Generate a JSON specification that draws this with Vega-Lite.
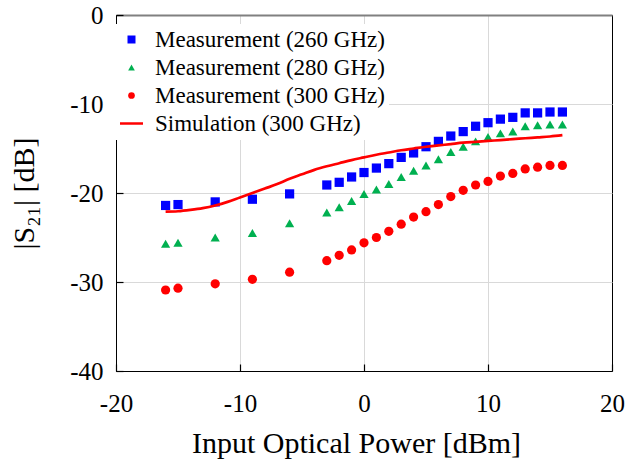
{
  "$schema": "https://vega.github.io/schema/vega-lite/v6.json",
  "width": 496,
  "height": 356,
  "autosize": {"type": "none"},
  "padding": {"left": 116, "top": 15, "right": 32, "bottom": 91},
  "background": "white",
  "config": {
    "view": {"stroke": "black", "strokeWidth": 1},
    "font": "Liberation Serif",
    "axis": {
      "labelFont": "Liberation Serif",
      "labelFontSize": 25,
      "labelColor": "black",
      "labelFlush": false,
      "labelOverlap": false,
      "titleFont": "Liberation Serif",
      "titleFontSize": 30,
      "titleFontWeight": "normal",
      "titleColor": "black",
      "domainColor": "black",
      "domainWidth": 1,
      "ticks": true,
      "tickColor": "black",
      "tickSize": -7,
      "tickWidth": 1.2,
      "zindex": 1
    },
    "legend": {
      "labelFont": "Liberation Serif",
      "labelFontSize": 23,
      "labelColor": "black"
    }
  },
  "datasets": {
    "meas": [
      {"p": -16, "s21": -21.4, "series": "Measurement (260 GHz)"},
      {"p": -15, "s21": -21.3, "series": "Measurement (260 GHz)"},
      {"p": -12, "s21": -21.0, "series": "Measurement (260 GHz)"},
      {"p": -9, "s21": -20.7, "series": "Measurement (260 GHz)"},
      {"p": -6, "s21": -20.1, "series": "Measurement (260 GHz)"},
      {"p": -3, "s21": -19.1, "series": "Measurement (260 GHz)"},
      {"p": -2, "s21": -18.8, "series": "Measurement (260 GHz)"},
      {"p": -1, "s21": -18.2, "series": "Measurement (260 GHz)"},
      {"p": 0, "s21": -17.7, "series": "Measurement (260 GHz)"},
      {"p": 1, "s21": -17.2, "series": "Measurement (260 GHz)"},
      {"p": 2, "s21": -16.7, "series": "Measurement (260 GHz)"},
      {"p": 3, "s21": -16.0, "series": "Measurement (260 GHz)"},
      {"p": 4, "s21": -15.5, "series": "Measurement (260 GHz)"},
      {"p": 5, "s21": -14.8, "series": "Measurement (260 GHz)"},
      {"p": 6, "s21": -14.2, "series": "Measurement (260 GHz)"},
      {"p": 7, "s21": -13.6, "series": "Measurement (260 GHz)"},
      {"p": 8, "s21": -13.1, "series": "Measurement (260 GHz)"},
      {"p": 9, "s21": -12.5, "series": "Measurement (260 GHz)"},
      {"p": 10, "s21": -12.1, "series": "Measurement (260 GHz)"},
      {"p": 11, "s21": -11.7, "series": "Measurement (260 GHz)"},
      {"p": 12, "s21": -11.5, "series": "Measurement (260 GHz)"},
      {"p": 13, "s21": -11.0, "series": "Measurement (260 GHz)"},
      {"p": 14, "s21": -11.0, "series": "Measurement (260 GHz)"},
      {"p": 15, "s21": -10.9, "series": "Measurement (260 GHz)"},
      {"p": 16, "s21": -10.9, "series": "Measurement (260 GHz)"},
      {"p": -16, "s21": -25.7, "series": "Measurement (280 GHz)"},
      {"p": -15, "s21": -25.6, "series": "Measurement (280 GHz)"},
      {"p": -12, "s21": -25.0, "series": "Measurement (280 GHz)"},
      {"p": -9, "s21": -24.5, "series": "Measurement (280 GHz)"},
      {"p": -6, "s21": -23.4, "series": "Measurement (280 GHz)"},
      {"p": -3, "s21": -22.2, "series": "Measurement (280 GHz)"},
      {"p": -2, "s21": -21.6, "series": "Measurement (280 GHz)"},
      {"p": -1, "s21": -20.9, "series": "Measurement (280 GHz)"},
      {"p": 0, "s21": -20.1, "series": "Measurement (280 GHz)"},
      {"p": 1, "s21": -19.6, "series": "Measurement (280 GHz)"},
      {"p": 2, "s21": -19.0, "series": "Measurement (280 GHz)"},
      {"p": 3, "s21": -18.2, "series": "Measurement (280 GHz)"},
      {"p": 4, "s21": -17.5, "series": "Measurement (280 GHz)"},
      {"p": 5, "s21": -16.9, "series": "Measurement (280 GHz)"},
      {"p": 6, "s21": -16.2, "series": "Measurement (280 GHz)"},
      {"p": 7, "s21": -15.4, "series": "Measurement (280 GHz)"},
      {"p": 8, "s21": -14.8, "series": "Measurement (280 GHz)"},
      {"p": 9, "s21": -14.2, "series": "Measurement (280 GHz)"},
      {"p": 10, "s21": -13.7, "series": "Measurement (280 GHz)"},
      {"p": 11, "s21": -13.3, "series": "Measurement (280 GHz)"},
      {"p": 12, "s21": -13.1, "series": "Measurement (280 GHz)"},
      {"p": 13, "s21": -12.5, "series": "Measurement (280 GHz)"},
      {"p": 14, "s21": -12.4, "series": "Measurement (280 GHz)"},
      {"p": 15, "s21": -12.3, "series": "Measurement (280 GHz)"},
      {"p": 16, "s21": -12.3, "series": "Measurement (280 GHz)"},
      {"p": -16, "s21": -30.9, "series": "Measurement (300 GHz)"},
      {"p": -15, "s21": -30.7, "series": "Measurement (300 GHz)"},
      {"p": -12, "s21": -30.2, "series": "Measurement (300 GHz)"},
      {"p": -9, "s21": -29.7, "series": "Measurement (300 GHz)"},
      {"p": -6, "s21": -28.9, "series": "Measurement (300 GHz)"},
      {"p": -3, "s21": -27.6, "series": "Measurement (300 GHz)"},
      {"p": -2, "s21": -27.0, "series": "Measurement (300 GHz)"},
      {"p": -1, "s21": -26.4, "series": "Measurement (300 GHz)"},
      {"p": 0, "s21": -25.6, "series": "Measurement (300 GHz)"},
      {"p": 1, "s21": -25.0, "series": "Measurement (300 GHz)"},
      {"p": 2, "s21": -24.3, "series": "Measurement (300 GHz)"},
      {"p": 3, "s21": -23.5, "series": "Measurement (300 GHz)"},
      {"p": 4, "s21": -22.7, "series": "Measurement (300 GHz)"},
      {"p": 5, "s21": -22.1, "series": "Measurement (300 GHz)"},
      {"p": 6, "s21": -21.3, "series": "Measurement (300 GHz)"},
      {"p": 7, "s21": -20.4, "series": "Measurement (300 GHz)"},
      {"p": 8, "s21": -19.7, "series": "Measurement (300 GHz)"},
      {"p": 9, "s21": -19.1, "series": "Measurement (300 GHz)"},
      {"p": 10, "s21": -18.7, "series": "Measurement (300 GHz)"},
      {"p": 11, "s21": -18.1, "series": "Measurement (300 GHz)"},
      {"p": 12, "s21": -17.8, "series": "Measurement (300 GHz)"},
      {"p": 13, "s21": -17.3, "series": "Measurement (300 GHz)"},
      {"p": 14, "s21": -17.1, "series": "Measurement (300 GHz)"},
      {"p": 15, "s21": -16.9, "series": "Measurement (300 GHz)"},
      {"p": 16, "s21": -16.9, "series": "Measurement (300 GHz)"}
    ],
    "sim": [
      {"p": -16, "s21": -22.1, "series": "Simulation (300 GHz)"},
      {"p": -15, "s21": -22.05, "series": "Simulation (300 GHz)"},
      {"p": -14, "s21": -21.9, "series": "Simulation (300 GHz)"},
      {"p": -13, "s21": -21.7, "series": "Simulation (300 GHz)"},
      {"p": -12, "s21": -21.4, "series": "Simulation (300 GHz)"},
      {"p": -11, "s21": -21.0, "series": "Simulation (300 GHz)"},
      {"p": -10, "s21": -20.5, "series": "Simulation (300 GHz)"},
      {"p": -9, "s21": -20.0, "series": "Simulation (300 GHz)"},
      {"p": -8, "s21": -19.5, "series": "Simulation (300 GHz)"},
      {"p": -7, "s21": -19.0, "series": "Simulation (300 GHz)"},
      {"p": -6, "s21": -18.4, "series": "Simulation (300 GHz)"},
      {"p": -5, "s21": -17.9, "series": "Simulation (300 GHz)"},
      {"p": -4, "s21": -17.4, "series": "Simulation (300 GHz)"},
      {"p": -3, "s21": -17.0, "series": "Simulation (300 GHz)"},
      {"p": -2, "s21": -16.65, "series": "Simulation (300 GHz)"},
      {"p": -1, "s21": -16.3, "series": "Simulation (300 GHz)"},
      {"p": 0, "s21": -16.0, "series": "Simulation (300 GHz)"},
      {"p": 1, "s21": -15.7, "series": "Simulation (300 GHz)"},
      {"p": 2, "s21": -15.45, "series": "Simulation (300 GHz)"},
      {"p": 3, "s21": -15.2, "series": "Simulation (300 GHz)"},
      {"p": 4, "s21": -15.0, "series": "Simulation (300 GHz)"},
      {"p": 5, "s21": -14.8, "series": "Simulation (300 GHz)"},
      {"p": 6, "s21": -14.65, "series": "Simulation (300 GHz)"},
      {"p": 7, "s21": -14.5, "series": "Simulation (300 GHz)"},
      {"p": 8, "s21": -14.35, "series": "Simulation (300 GHz)"},
      {"p": 9, "s21": -14.25, "series": "Simulation (300 GHz)"},
      {"p": 10, "s21": -14.15, "series": "Simulation (300 GHz)"},
      {"p": 11, "s21": -14.05, "series": "Simulation (300 GHz)"},
      {"p": 12, "s21": -13.95, "series": "Simulation (300 GHz)"},
      {"p": 13, "s21": -13.85, "series": "Simulation (300 GHz)"},
      {"p": 14, "s21": -13.75, "series": "Simulation (300 GHz)"},
      {"p": 15, "s21": -13.65, "series": "Simulation (300 GHz)"},
      {"p": 16, "s21": -13.5, "series": "Simulation (300 GHz)"}
    ]
  },
  "encoding": {
    "x": {
      "field": "p",
      "type": "quantitative",
      "scale": {"domain": [-20, 20], "nice": false},
      "axis": {
        "values": [-20, -10, 0, 10, 20],
        "labelExpr": "'' + datum.value",
        "labelFlush": false,
        "title": "Input Optical Power [dBm]",
        "labelPadding": 27,
        "titleX": 240,
        "titleY": 81,
        "titleBaseline": "alphabetic",
        "gridColor": {"condition": {"test": "datum.value === -20 || datum.value === 20", "value": "transparent"}, "value": "#d9d9d9"}
      }
    },
    "y": {
      "field": "s21",
      "type": "quantitative",
      "scale": {"domain": [-40, 0], "nice": false},
      "axis": {
        "values": [-40, -30, -20, -10, 0],
        "labelExpr": "'' + datum.value",
        "labelFlush": false,
        "title": "|S₂₁| [dB]",
        "labelPadding": 20,
        "titleX": -83,
        "titleBaseline": "alphabetic",
        "gridColor": {"condition": {"test": "datum.value === 0", "value": "#808080"}, "value": "#d9d9d9"},
        "gridWidth": {"condition": {"test": "datum.value === 0", "value": 2}, "value": 1}
      }
    },
    "color": {
      "field": "series",
      "type": "nominal",
      "scale": {
        "domain": ["Measurement (260 GHz)", "Measurement (280 GHz)", "Measurement (300 GHz)", "Simulation (300 GHz)"],
        "range": ["#0000FF", "#00B050", "#FF0000", "#FF0000"]
      },
      "legend": {
        "title": null,
        "orient": "none",
        "legendX": 0,
        "legendY": 9,
        "padding": 4,
        "fillColor": "white",
        "rowPadding": 4,
        "labelOffset": 12,
        "labelLimit": 400,
        "labelFont": "Liberation Serif",
        "symbolSize": 100,
        "zindex": 2,
        "encode": {
          "symbols": {
            "update": {
              "fill": {"scale": "color", "field": "value"},
              "stroke": {"scale": "color", "field": "value"},
              "shape": {"scale": "shape", "field": "value"},
              "strokeWidth": {"signal": "datum.value === 'Simulation (300 GHz)' ? 2.5 : 0"},
              "size": {"signal": "datum.value === 'Simulation (300 GHz)' ? 529 : (datum.value === 'Measurement (260 GHz)' ? 64 : 45)"},
              "opacity": {"value": 1}
            }
          }
        }
      }
    }
  },
  "layer": [
    {
      "data": {"name": "meas"},
      "mark": {"type": "point", "filled": true, "opacity": 1, "size": 85},
      "encoding": {
        "shape": {
          "field": "series",
          "type": "nominal",
          "scale": {
            "domain": ["Measurement (260 GHz)", "Measurement (280 GHz)", "Measurement (300 GHz)", "Simulation (300 GHz)"],
            "range": ["square", "triangle-up", "circle", "stroke"]
          }
        }
      }
    },
    {
      "data": {"name": "sim"},
      "mark": {"type": "line", "strokeWidth": 2.7, "interpolate": "monotone"},
      "encoding": {}
    }
  ]
}
